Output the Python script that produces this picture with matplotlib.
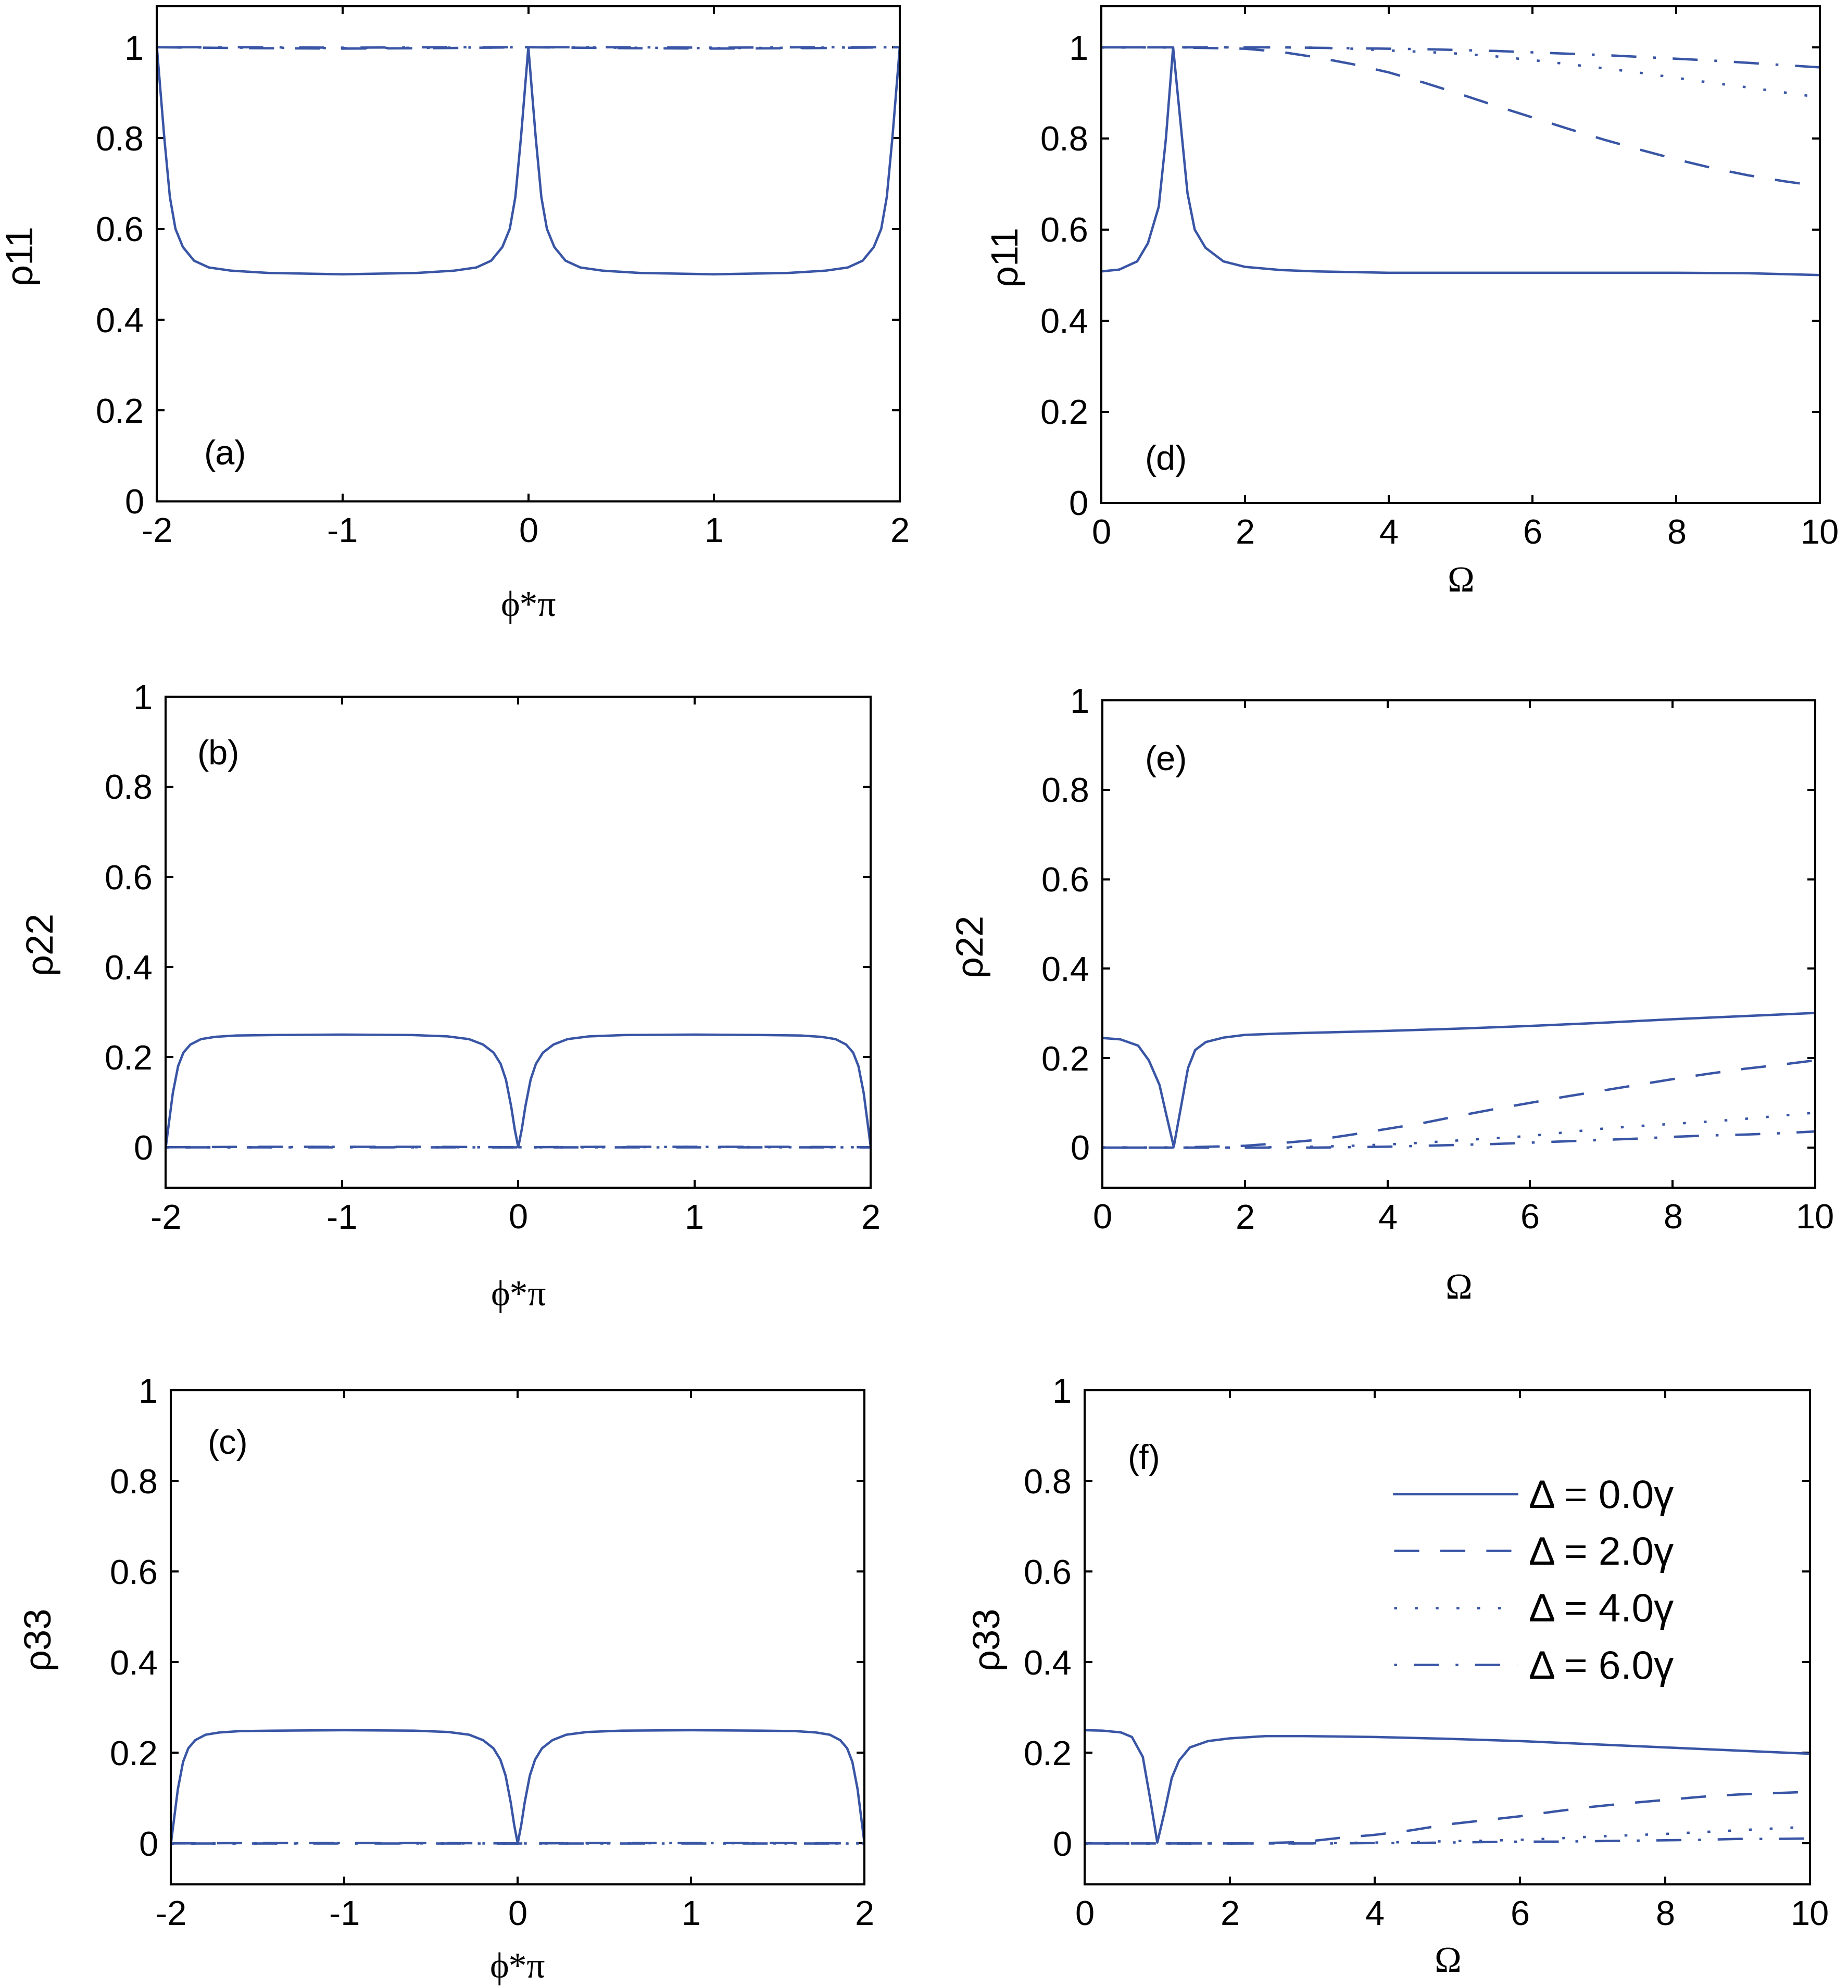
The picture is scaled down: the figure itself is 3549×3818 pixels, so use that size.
import matplotlib
matplotlib.use("Agg")
import matplotlib.pyplot as plt

# 글꼴 설정
plt.rcParams['font.family'] = ['Liberation Sans', 'DejaVu Sans']
plt.rcParams['axes.unicode_minus'] = False

# ---- data ----
phi = [-2, -1.98, -1.96, -1.93, -1.90, -1.86, -1.80, -1.72, -1.60, -1.40, -1.0, -0.6, -0.40, -0.28, -0.20,
       -0.14, -0.10, -0.07, -0.04, -0.02, 0,
       0.02, 0.04, 0.07, 0.10, 0.14, 0.20, 0.28, 0.40, 0.6, 1.0, 1.40, 1.60, 1.72, 1.80,
       1.86, 1.90, 1.93, 1.96, 1.98, 2]
rho11_phi = [1.0, 0.90, 0.80, 0.67, 0.60, 0.56, 0.53, 0.515, 0.508, 0.503, 0.500, 0.503, 0.508, 0.515, 0.53,
             0.56, 0.60, 0.67, 0.80, 0.90, 1.0,
             0.90, 0.80, 0.67, 0.60, 0.56, 0.53, 0.515, 0.508, 0.503, 0.500, 0.503, 0.508, 0.515, 0.53,
             0.56, 0.60, 0.67, 0.80, 0.90, 1.0]
rho22_phi = [0.0, 0.06, 0.12, 0.18, 0.21, 0.228, 0.24, 0.245, 0.248, 0.249, 0.25, 0.249, 0.246, 0.240, 0.228,
             0.21, 0.185, 0.15, 0.09, 0.04, 0.0,
             0.04, 0.09, 0.15, 0.185, 0.21, 0.228, 0.240, 0.246, 0.249, 0.25, 0.249, 0.248, 0.245, 0.24,
             0.228, 0.21, 0.18, 0.12, 0.06, 0.0]
rho33_phi = [0.0, 0.06, 0.12, 0.18, 0.21, 0.228, 0.24, 0.245, 0.248, 0.249, 0.25, 0.249, 0.246, 0.240, 0.228,
             0.21, 0.185, 0.15, 0.09, 0.04, 0.0,
             0.04, 0.09, 0.15, 0.185, 0.21, 0.228, 0.240, 0.246, 0.249, 0.25, 0.249, 0.248, 0.245, 0.24,
             0.228, 0.21, 0.18, 0.12, 0.06, 0.0]

# other detunings (flat) on a coarse phi grid
phi_c = [-2, -1.5, -1, -0.5, 0, 0.5, 1, 1.5, 2]
rho11_phi_d2 = [1.0, 0.998, 0.997, 0.998, 1.0, 0.998, 0.997, 0.998, 1.0]
rho11_phi_d4 = [1.0, 0.999, 0.998, 0.999, 1.0, 0.999, 0.998, 0.999, 1.0]
rho11_phi_d6 = [1.0, 1.0, 0.999, 1.0, 1.0, 1.0, 0.999, 1.0, 1.0]
rho22_phi_d2 = [0.0, 0.001, 0.001, 0.001, 0.0, 0.001, 0.001, 0.001, 0.0]
rho22_phi_d4 = [0.0, 0.0, 0.001, 0.0, 0.0, 0.0, 0.001, 0.0, 0.0]
rho22_phi_d6 = [0.0, 0.0, 0.0, 0.0, 0.0, 0.0, 0.0, 0.0, 0.0]
rho33_phi_d2 = [0.0, 0.001, 0.001, 0.001, 0.0, 0.001, 0.001, 0.001, 0.0]
rho33_phi_d4 = [0.0, 0.0, 0.001, 0.0, 0.0, 0.0, 0.001, 0.0, 0.0]
rho33_phi_d6 = [0.0, 0.0, 0.0, 0.0, 0.0, 0.0, 0.0, 0.0, 0.0]

omega_f = [0, 0.25, 0.5, 0.65, 0.8, 0.9, 1.0, 1.1, 1.2, 1.3, 1.45, 1.7, 2.0, 2.5, 3, 4, 5, 6, 7, 8, 9, 10]
rho11_om = [0.508, 0.512, 0.53, 0.57, 0.65, 0.80, 1.0, 0.84, 0.68, 0.60, 0.56, 0.53, 0.518, 0.511, 0.508,
            0.505, 0.505, 0.505, 0.505, 0.505, 0.504, 0.500]
rho22_om = [0.245, 0.242, 0.228, 0.195, 0.14, 0.07, 0.002, 0.09, 0.178, 0.218, 0.236, 0.246, 0.252, 0.255,
            0.257, 0.261, 0.266, 0.272, 0.279, 0.287, 0.294, 0.301]
rho33_om = [0.250, 0.249, 0.245, 0.235, 0.191, 0.10, 0.002, 0.07, 0.145, 0.183, 0.212, 0.226, 0.232, 0.237,
            0.237, 0.235, 0.231, 0.226, 0.219, 0.212, 0.205, 0.198]

omega_c = [0, 1, 2, 2.5, 3, 3.5, 4, 4.5, 5, 5.5, 6, 6.5, 7, 7.5, 8, 8.5, 9, 9.5, 10]
rho11_om_d2 = [1.0, 1.0, 0.997, 0.99, 0.978, 0.963, 0.945, 0.922, 0.897, 0.871, 0.846, 0.821, 0.797, 0.775,
               0.754, 0.735, 0.719, 0.706, 0.695]
rho11_om_d4 = [1.0, 1.0, 1.0, 1.0, 0.999, 0.997, 0.993, 0.99, 0.986, 0.98, 0.972, 0.963, 0.954, 0.944,
               0.933, 0.922, 0.912, 0.901, 0.89]
rho11_om_d6 = [1.0, 1.0, 1.0, 1.0, 0.999, 0.998, 0.997, 0.996, 0.994, 0.992, 0.989, 0.986, 0.983, 0.979,
               0.975, 0.971, 0.966, 0.961, 0.956]
rho22_om_d2 = [0, 0, 0.004, 0.01, 0.017, 0.029, 0.042, 0.055, 0.071, 0.086, 0.10, 0.114, 0.127, 0.14,
               0.153, 0.165, 0.176, 0.185, 0.195]
rho22_om_d4 = [0, 0, 0, 0.001, 0.002, 0.004, 0.007, 0.011, 0.016, 0.021, 0.026, 0.034, 0.042, 0.048,
               0.053, 0.058, 0.064, 0.071, 0.078]
rho22_om_d6 = [0, 0, 0, 0, 0, 0.001, 0.002, 0.004, 0.006, 0.008, 0.011, 0.014, 0.017, 0.02,
               0.024, 0.027, 0.029, 0.032, 0.036]
rho33_om_d2 = [0, 0, 0, 0.001, 0.003, 0.012, 0.019, 0.029, 0.042, 0.051, 0.060, 0.071, 0.081, 0.089,
               0.096, 0.103, 0.108, 0.111, 0.114]
rho33_om_d4 = [0, 0, 0, 0, 0, 0.001, 0.002, 0.003, 0.005, 0.006, 0.008, 0.011, 0.015, 0.018,
               0.021, 0.025, 0.029, 0.033, 0.037]
rho33_om_d6 = [0, 0, 0, 0, 0, 0, 0.001, 0.001, 0.002, 0.003, 0.004, 0.004, 0.005, 0.006,
               0.007, 0.008, 0.010, 0.010, 0.011]

labels = ['Δ = 0.0γ', 'Δ = 2.0γ', 'Δ = 4.0γ', 'Δ = 6.0γ']
phi_ticks = [-2, -1, 0, 1, 2]
om_ticks = [0, 2, 4, 6, 8, 10]
y_ticks = [0, 0.2, 0.4, 0.6, 0.8, 1.0]
y_ticklabels = ['0', '0.2', '0.4', '0.6', '0.8', '1']

# ---- style ----
BLUE = '#3955a5'
LW = 3.3
styles = ['-', (0, (10.5, 8.8)), (0, (1.2, 7.5)), (0, (1.2, 7.0, 10.5, 7.0))]
TICK_FS = 48
SERIF = ['Liberation Serif', 'DejaVu Serif']

fig = plt.figure(figsize=(35.49, 38.18), dpi=100)

panels = [
    # rect, x-data, series, ylim, xlabel, ylabel, tag, tag pos, ylabel x, xlabel y
    ([0.0849, 0.7478, 0.4020, 0.2490], 'phi', [(phi, rho11_phi), (phi_c, rho11_phi_d2), (phi_c, rho11_phi_d4), (phi_c, rho11_phi_d6)],
     (0, 1.09), 'ϕ*π', 'ρ11', '(a)', (0.092, 0.092), -0.16, -0.181),
    ([0.0897, 0.4025, 0.3815, 0.2471], 'phi', [(phi, rho22_phi), (phi_c, rho22_phi_d2), (phi_c, rho22_phi_d4), (phi_c, rho22_phi_d6)],
     (-0.09, 1.0), 'ϕ*π', 'ρ22', '(b)', (0.075, 0.88), -0.152, -0.188),
    ([0.0925, 0.0522, 0.3753, 0.2484], 'phi', [(phi, rho33_phi), (phi_c, rho33_phi_d2), (phi_c, rho33_phi_d4), (phi_c, rho33_phi_d6)],
     (-0.09, 1.0), 'ϕ*π', 'ρ33', '(c)', (0.082, 0.89), -0.165, -0.138),
    ([0.5959, 0.7471, 0.3890, 0.2497], 'om', [(omega_f, rho11_om), (omega_c, rho11_om_d2), (omega_c, rho11_om_d4), (omega_c, rho11_om_d6)],
     (0, 1.09), 'Ω', 'ρ11', '(d)', (0.09, 0.084), -0.108, -0.128),
    ([0.5966, 0.4025, 0.3856, 0.2452], 'om', [(omega_f, rho22_om), (omega_c, rho22_om_d2), (omega_c, rho22_om_d4), (omega_c, rho22_om_d6)],
     (-0.09, 1.0), 'Ω', 'ρ22', '(e)', (0.089, 0.875), -0.16, -0.175),
    ([0.5870, 0.0522, 0.3925, 0.2484], 'om', [(omega_f, rho33_om), (omega_c, rho33_om_d2), (omega_c, rho33_om_d4), (omega_c, rho33_om_d6)],
     (-0.09, 1.0), 'Ω', 'ρ33', '(f)', (0.082, 0.859), -0.11, -0.126),
]

for rect, kind, series, ylim, xl, yl, tag, tagpos, ylx, xly in panels:
    ax = fig.add_axes(rect)
    for (xs, ys), ls, lab in zip(series, styles, labels):
        ax.plot(xs, ys, color=BLUE, lw=LW, linestyle=ls, label=lab)
    if kind == 'phi':
        ax.set_xlim(-2, 2)
        ax.set_xticks(phi_ticks)
        ax.set_xticklabels([str(t) for t in phi_ticks])
    else:
        ax.set_xlim(0, 10)
        ax.set_xticks(om_ticks)
        ax.set_xticklabels([str(t) for t in om_ticks])
    ax.set_ylim(*ylim)
    ax.set_yticks(y_ticks)
    ax.set_yticklabels(y_ticklabels)
    ax.tick_params(direction='in', top=True, right=True, length=11, width=2.9,
                   labelsize=TICK_FS)
    ax.tick_params(axis='x', pad=22)
    ax.tick_params(axis='y', pad=18)
    for sp in ax.spines.values():
        sp.set_linewidth(2.9)
    ax.set_ylabel(yl, fontsize=52)
    ax.yaxis.set_label_coords(ylx, 0.5)
    ax.set_xlabel(xl, fontsize=50, family=SERIF)
    ax.xaxis.set_label_coords(0.5, xly)
    ax.text(tagpos[0], tagpos[1], tag, transform=ax.transAxes, fontsize=TICK_FS,
            ha='center', va='center')
    if tag == '(f)':
        ax.legend(loc='upper left', bbox_to_anchor=(0.426, 0.82), frameon=False,
                  fontsize=55, handlelength=3.1, handletextpad=0.3,
                  labelspacing=0.5, borderpad=0, borderaxespad=0)

fig.savefig('out.png', dpi=100)
